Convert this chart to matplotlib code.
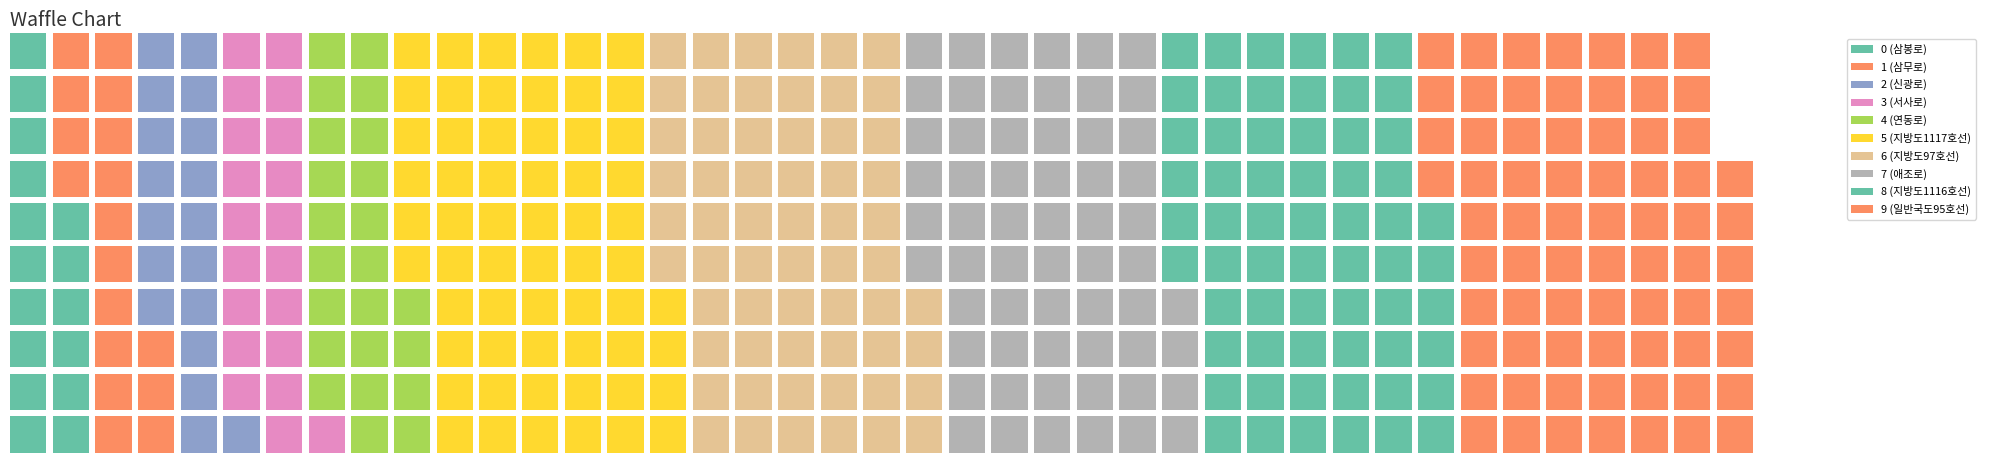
import matplotlib
matplotlib.use("Agg")
import matplotlib.pyplot as plt
from matplotlib.patches import Rectangle, Patch

plt.rcParams['font.family'] = ['Noto Sans CJK KR', 'DejaVu Sans']

# ---- data ----
labels = ['0 (삼봉로)', '1 (삼무로)', '2 (신광로)', '3 (서사로)', '4 (연동로)',
          '5 (지방도1117호선)', '6 (지방도97호선)', '7 (애조로)',
          '8 (지방도1116호선)', '9 (일반국도95호선)']
values = [16, 17, 18, 20, 23, 60, 60, 60, 62, 71]
n_rows = 10
title = 'Waffle Chart'

# Set2 palette (cycled)
set2 = ['#66c2a5', '#fc8d62', '#8da0cb', '#e78ac3', '#a6d854',
        '#ffd92f', '#e5c494', '#b3b3b3']
colors = [set2[i % len(set2)] for i in range(len(values))]

total = sum(values)
n_cols = -(-total // n_rows)
cell = 0.85

fig = plt.figure(figsize=(19.9, 4.63), dpi=100)
ax = fig.add_axes([10 / 1990, (463 - 452.7) / 463, (1753 - 10) / 1990, (452.7 - 33) / 463])

idx = 0
for cat, v in enumerate(values):
    for _ in range(v):
        col = idx // n_rows
        row = idx % n_rows
        ax.add_patch(Rectangle((col, row), cell, cell, facecolor=colors[cat],
                               edgecolor='none'))
        idx += 1

ax.set_xlim(0, n_cols - 1 + cell)
ax.set_ylim(0, n_rows - 1 + cell)
ax.axis('off')

fig.text(10 / 1990, (463 - 26) / 463, title, fontsize=14, color='#333333',
         ha='left', va='baseline')

handles = [Patch(facecolor=c, edgecolor='none') for c in colors]
fig.legend(handles, labels, loc='upper left',
           bbox_to_anchor=(1846.7 / 1990, (463 - 39.3) / 463),
           borderaxespad=0, fontsize=7.8, labelspacing=0.62,
           frameon=True, fancybox=True, edgecolor='#cccccc')

fig.savefig('out.png', dpi=100)
